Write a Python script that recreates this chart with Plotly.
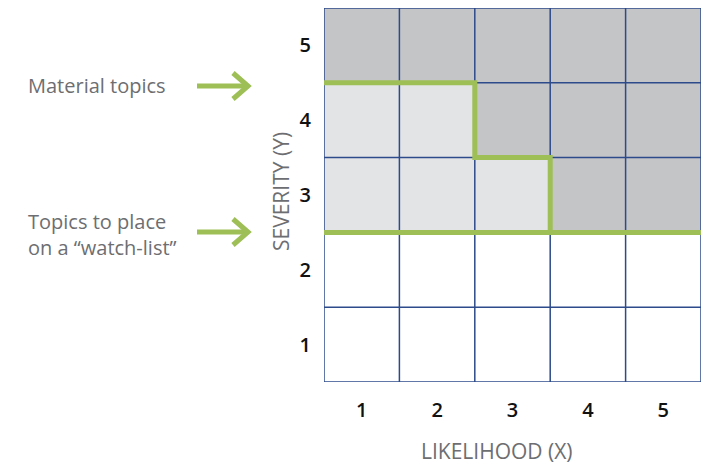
import plotly.graph_objects as go

# ---- data ----
likelihood = [1, 2, 3, 4, 5]          # x categories
severity = [1, 2, 3, 4, 5]            # y categories
# cell class: 0 = white, 1 = watch-list (light grey), 2 = material (dark grey)
zone = [
    [0, 0, 0, 0, 0],   # severity 1
    [0, 0, 0, 0, 0],   # severity 2
    [1, 1, 1, 2, 2],   # severity 3
    [1, 1, 2, 2, 2],   # severity 4
    [2, 2, 2, 2, 2],   # severity 5
]
# material-topic boundary (staircase) and watch-list boundary
material_x = [0.5, 2.5, 2.5, 3.5, 3.5]
material_y = [4.5, 4.5, 3.5, 3.5, 2.5]
watch_x = [0.5, 5.5]
watch_y = [2.5, 2.5]
tick_labels = ["1", "2", "3", "4", "5"]

GREEN = "#9dbf56"
NAVY = "#2d4a8a"
GREY_TXT = "#6d6e71"
FONT = "Open Sans"

fig = go.Figure()

fig.add_trace(go.Heatmap(
    x=likelihood, y=severity, z=zone,
    zmin=0, zmax=2,
    colorscale=[[0, "#ffffff"], [0.25, "#ffffff"], [0.25, "#e3e4e6"],
                [0.75, "#e3e4e6"], [0.75, "#c4c5c7"], [1, "#c4c5c7"]],
    showscale=False, hoverinfo="skip",
))

# grid lines
edges = [v - 0.5 for v in likelihood] + [likelihood[-1] + 0.5]
gx, gy = [], []
for e in edges:
    gx += [e, e, None]
    gy += [edges[0], edges[-1], None]
for e in edges:
    gx += [edges[0], edges[-1], None]
    gy += [e, e, None]
fig.add_trace(go.Scatter(x=gx, y=gy, mode="lines",
                         line=dict(color=NAVY, width=1.5),
                         hoverinfo="skip", cliponaxis=False))

fig.add_trace(go.Scatter(x=watch_x, y=watch_y, mode="lines",
                         line=dict(color=GREEN, width=5),
                         hoverinfo="skip", cliponaxis=False))
fig.add_trace(go.Scatter(x=material_x, y=material_y, mode="lines",
                         line=dict(color=GREEN, width=5),
                         hoverinfo="skip", cliponaxis=False))

W, H = 705, 464
L, T = 324, 8
R = W - 701
B = H - 382
pw, ph = W - L - R, H - T - B

def px(xs):
    return (xs - L) / pw

def py(ys):
    return (H - B - ys) / ph

# arrows
shapes = []
for yc in (86, 232):
    shapes.append(dict(type="line", xref="paper", yref="paper",
                       x0=px(197), x1=px(247), y0=py(yc), y1=py(yc),
                       line=dict(color=GREEN, width=5)))
    shapes.append(dict(type="path", xref="paper", yref="paper",
                       path=f"M {px(233)} {py(yc-13)} L {px(248)} {py(yc)} L {px(233)} {py(yc+13)}",
                       line=dict(color=GREEN, width=5)))

annotations = [
    dict(text="Material topics", xref="paper", yref="paper",
         x=px(26), y=py(86), xanchor="left", yanchor="middle", showarrow=False,
         font=dict(family=FONT, size=20, color=GREY_TXT)),
    dict(text="Topics to place<br>on a \u201cwatch-list\u201d", xref="paper", yref="paper",
         x=px(26), y=py(234), xanchor="left", yanchor="middle", showarrow=False,
         align="left", font=dict(family=FONT, size=20, color=GREY_TXT)),
    dict(text="SEVERITY (Y)", xref="paper", yref="paper", textangle=-90,
         x=px(281), y=py(192), xanchor="center", yanchor="middle", showarrow=False,
         font=dict(family=FONT, size=21, color=GREY_TXT)),
    dict(text="LIKELIHOOD (X)", xref="paper", yref="paper",
         x=px(497), y=py(451), xanchor="center", yanchor="middle", showarrow=False,
         font=dict(family=FONT, size=21, color=GREY_TXT)),
]

fig.update_layout(
    width=W, height=H,
    margin=dict(l=L, r=R, t=T, b=B),
    paper_bgcolor="white", plot_bgcolor="white",
    showlegend=False,
    shapes=shapes, annotations=annotations,
    xaxis=dict(range=[0.5, 5.5], tickvals=likelihood, ticktext=tick_labels,
               showgrid=False, zeroline=False, showline=False, ticks="",
               ticklabelstandoff=14, fixedrange=True,
               tickfont=dict(family=FONT, size=20, color="#111111", weight=600)),
    yaxis=dict(range=[0.5, 5.5], tickvals=severity, ticktext=tick_labels,
               showgrid=False, zeroline=False, showline=False, ticks="",
               ticklabelstandoff=12, fixedrange=True,
               tickfont=dict(family=FONT, size=20, color="#111111", weight=600)),
)

fig.write_html("out.html", config={"displayModeBar": False},
               post_script="document.body.style.margin='0';document.body.style.overflow='hidden';")
